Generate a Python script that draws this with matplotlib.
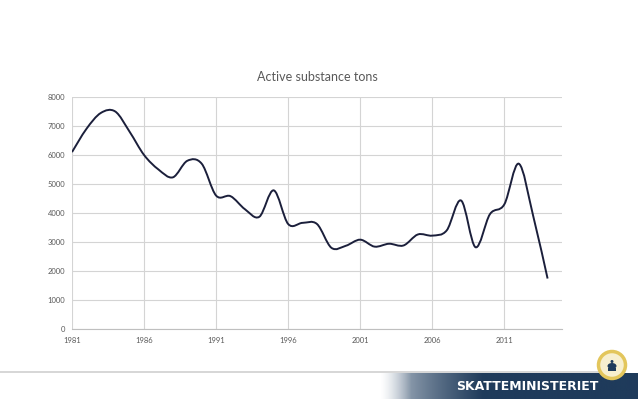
import matplotlib as mpl
mpl.use('Agg')
import matplotlib.pyplot as plt
import numpy as np
from matplotlib.path import Path
import matplotlib.patches as mpatches

years = list(range(1981, 2015))
tons = [6100, 6900, 7450, 7500, 6800, 6000, 5500, 5230, 5800, 5700,
        4600, 4580, 4130, 3870, 4780, 3620, 3660, 3620, 2800, 2870,
        3080, 2840, 2940, 2880, 3260, 3220, 3400, 4430, 2820, 3960,
        4300, 5700, 3900, 1740]
xticks = [1981, 1986, 1991, 1996, 2001, 2006, 2011]
yticks = [0, 1000, 2000, 3000, 4000, 5000, 6000, 7000, 8000]
title = "Active substance tons"

txt_col = "#595959"
grid_col = "#d4d4d4"
line_col = "#1b1f3b"

plt.rcParams['font.family'] = ['Lato', 'DejaVu Sans']


def smooth_path(xs, ys):
    # excel style smoothed line: bezier segments through every point
    p = np.column_stack([xs, ys]).astype(float)
    pts = np.vstack([p[0], p, p[-1]])
    verts = [tuple(p[0])]
    codes = [Path.MOVETO]
    for i in range(1, len(pts) - 2):
        c1 = pts[i] + (pts[i + 1] - pts[i - 1]) / 6.0
        c2 = pts[i + 1] - (pts[i + 2] - pts[i]) / 6.0
        verts += [tuple(c1), tuple(c2), tuple(pts[i + 1])]
        codes += [Path.CURVE4] * 3
    return Path(verts, codes)


fig = plt.figure(figsize=(6.38, 3.99), dpi=100)
ax = fig.add_axes([72 / 638, 1 - 329 / 399, 490 / 638, 232 / 399])

ax.add_patch(mpatches.PathPatch(smooth_path(years, tons), fill=False,
                                edgecolor=line_col, lw=1.4, capstyle='butt',
                                zorder=3))
ax.set_xlim(1981, 2015)
ax.set_ylim(0, 8000)
ax.set_xticks(xticks)
ax.set_yticks(yticks)
ax.grid(True, color=grid_col, lw=0.8)
ax.set_axisbelow(True)
for s in ['top', 'right', 'left']:
    ax.spines[s].set_visible(False)
ax.spines['bottom'].set_color('#bfbfbf')
ax.spines['bottom'].set_linewidth(0.8)
ax.tick_params(length=0, labelsize=5.5, labelcolor=txt_col)
ax.tick_params(axis='x', pad=6)
ax.tick_params(axis='y', pad=5)
fig.text(317 / 638, 1 - 77 / 399, title, ha='center', va='center',
         fontsize=9, color=txt_col)

# footer decoration
deco = fig.add_axes([0, 0, 1, 1])
deco.set_xlim(0, 638)
deco.set_ylim(399, 0)
deco.axis('off')
deco.plot([0, 600], [372, 372], color='#d0d0d0', lw=1.2)
navy = np.array([0x1f, 0x3b, 0x5b]) / 255.0
xs = np.linspace(0, 1, 300)
t = np.clip(xs / 0.4, 0, 1) ** 0.6
grad = np.ones((1, 300, 4))
grad[0, :, :3] = (1 - t[:, None]) * np.array([0.90, 0.92, 0.94]) + t[:, None] * navy
grad[0, :, 3] = np.clip(xs / 0.12, 0, 1)
deco.imshow(grad, extent=[380, 638, 399, 373], aspect='auto', zorder=1)
deco.text(527, 387, "SKATTEMINISTERIET", color='white', fontsize=9,
          fontweight='heavy', family='DejaVu Sans', ha='center',
          va='center', zorder=3)
deco.add_patch(mpatches.Circle((612, 365), 13.5, facecolor='#f7efcf',
                               edgecolor='#e3c65c', lw=2.5, zorder=4))
deco.add_patch(mpatches.Ellipse((612, 366), 9, 6, facecolor=navy, zorder=5))
deco.add_patch(mpatches.Rectangle((608, 368), 8, 2.5, facecolor=navy, zorder=5))
deco.add_patch(mpatches.Circle((612, 361.5), 1.5, facecolor=navy, zorder=5))

fig.savefig("out.png", dpi=100)
